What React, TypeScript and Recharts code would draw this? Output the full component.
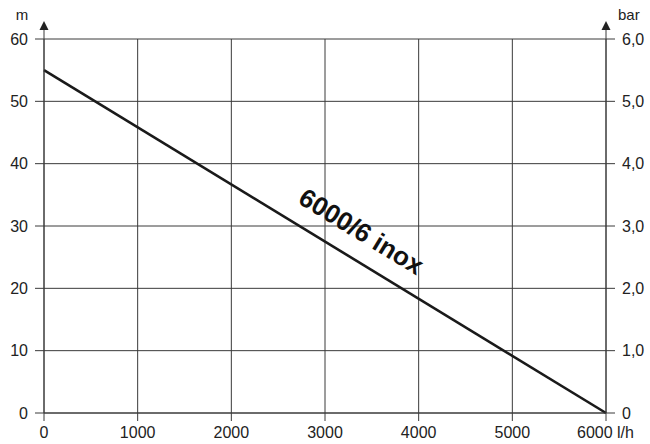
import { CartesianGrid, Label, Line, LineChart, ReferenceDot, XAxis, YAxis } from 'recharts';

// pump curve
const FLOW = [0, 6000]; // l/h
const HEAD = [55, 0]; // m
const FLOW_TICKS = [0, 1000, 2000, 3000, 4000, 5000, 6000];
const HEAD_TICKS = [0, 10, 20, 30, 40, 50, 60];
const BAR_TICKS = [0, 1, 2, 3, 4, 5, 6];
const CURVE_NAME = '6000/6 inox';
const NAME_AT = { flow: 3390, head: 29.2 };

const INK = '#222';
const GRID = '#3a3a3a';
const FONT = '"Liberation Sans", Arial, Helvetica, sans-serif';

const rows = FLOW.map((q, i) => ({ q, h: HEAD[i] }));

function AxisArrow({ viewBox, side, unit }: any) {
    const { x, y, width } = viewBox;
    const ax = side === 'left' ? x + width : x;
    const tip = y - 18;
    return (
        <g>
            <line x1={ax} y1={y} x2={ax} y2={tip + 5} stroke={GRID} strokeWidth={1} />
            <polygon points={`${ax},${tip} ${ax - 4.5},${tip + 9} ${ax + 4.5},${tip + 9}`} fill={INK} />
            <text
                x={side === 'left' ? ax - 22 : ax + 12}
                y={tip - 1}
                textAnchor={side === 'left' ? 'middle' : 'start'}
                fontFamily={FONT}
                fontSize={15}
                fill={INK}
            >
                {unit}
            </text>
        </g>
    );
}

function FlowTick({ x, y, payload }: any) {
    const last = payload.value === FLOW_TICKS[FLOW_TICKS.length - 1];
    return (
        <text
            x={last ? x - 29 : x}
            y={y}
            dy="0.71em"
            textAnchor={last ? 'start' : 'middle'}
            fontFamily={FONT}
            fontSize={16}
            fill={INK}
        >
            {last ? `${payload.value} l/h` : payload.value}
        </text>
    );
}

function HeadTick({ x, y, payload }: any) {
    return (
        <text x={x} y={y} dy="0.36em" textAnchor="end" fontFamily={FONT} fontSize={16} fill={INK}>
            {payload.value}
        </text>
    );
}

const barFmt = (v: number) => (v === 0 ? '0' : v.toFixed(1).replace('.', ','));

function BarTick({ x, y, payload }: any) {
    return (
        <text x={x} y={y} dy="0.36em" textAnchor="start" fontFamily={FONT} fontSize={16} fill={INK}>
            {barFmt(payload.value)}
        </text>
    );
}

function CurveName({ viewBox }: any) {
    const cx = viewBox.x + (viewBox.width ?? 0) / 2;
    const cy = viewBox.y + (viewBox.height ?? 0) / 2;
    return (
        <text
            x={cx}
            y={cy}
            dy="0.36em"
            textAnchor="middle"
            transform={`rotate(31.4 ${cx} ${cy})`}
            fontFamily={FONT}
            fontWeight="bold"
            fontSize={26}
            fill="#111"
        >
            {CURVE_NAME}
        </text>
    );
}

export default function App() {
    return (
        <div style={{ position: 'absolute', left: 0, top: 0, background: '#fff' }}>
            <LineChart width={650} height={444} data={rows} margin={{ top: 39, right: 0, bottom: 0, left: 0 }}>
                <CartesianGrid yAxisId="m" stroke={GRID} strokeWidth={1} />
                <XAxis
                    dataKey="q"
                    type="number"
                    domain={[0, 6000]}
                    ticks={FLOW_TICKS}
                    height={31}
                    tickSize={8}
                    tickMargin={6}
                    stroke={GRID}
                    tick={<FlowTick />}
                    interval={0}
                />
                <YAxis
                    yAxisId="m"
                    domain={[0, 60]}
                    ticks={HEAD_TICKS}
                    width={44}
                    tickSize={9}
                    tickMargin={7}
                    stroke={GRID}
                    tick={<HeadTick />}
                    interval={0}
                >
                    <Label content={<AxisArrow side="left" unit="m" />} />
                </YAxis>
                <YAxis
                    yAxisId="bar"
                    orientation="right"
                    type="number"
                    domain={[0, 6]}
                    allowDataOverflow
                    ticks={BAR_TICKS}
                    width={44}
                    tickSize={9}
                    tickMargin={7}
                    stroke={GRID}
                    tick={<BarTick />}
                    interval={0}
                >
                    <Label content={<AxisArrow side="right" unit="bar" />} />
                </YAxis>
                <Line
                    yAxisId="m"
                    dataKey="h"
                    type="linear"
                    stroke="#1a1a1a"
                    strokeWidth={2.6}
                    dot={false}
                    isAnimationActive={false}
                />
                <ReferenceDot
                    yAxisId="m"
                    x={NAME_AT.flow}
                    y={NAME_AT.head}
                    r={0}
                    fill="none"
                    stroke="none"
                    label={<CurveName />}
                />
            </LineChart>
        </div>
    );
}
